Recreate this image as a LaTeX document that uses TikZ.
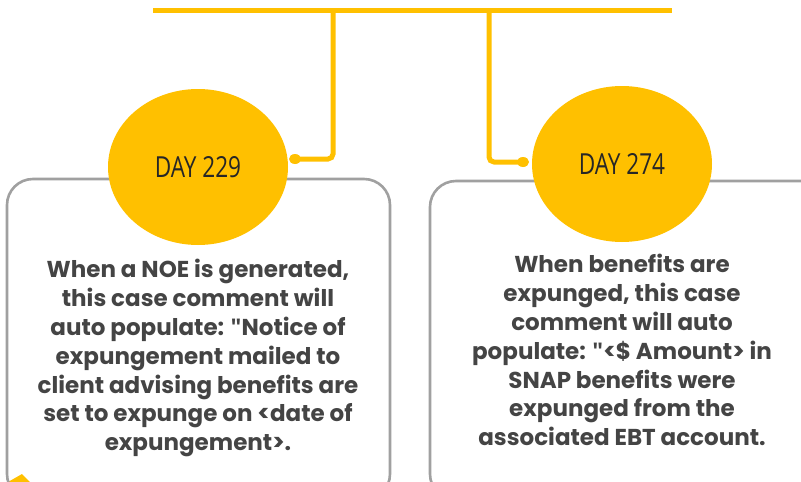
\documentclass[tikz,border=0pt]{standalone}
\usepackage{fontspec}
\setmainfont{Poppins}
\newfontfamily\dayfont[FakeStretch=0.78]{Open Sans}
\newfontfamily\quotefont{Open Sans}
\newcommand{\sq}{{\quotefont\char"22}}
\usetikzlibrary{shapes.geometric}

\definecolor{gold}{HTML}{FFC000}
\definecolor{boxgray}{HTML}{A0A0A0}
\definecolor{txtgray}{HTML}{444444}

\tikzset{
  conn/.style={gold, line width=5pt, rounded corners=5pt},
  daydot/.style={ellipse, fill=gold, inner sep=0pt, minimum width=180pt, minimum height=156pt,
    font=\dayfont\fontsize{29}{32}\selectfont, text=black!85},
  notebox/.style={draw=boxgray, line width=2.6pt, rounded corners=26pt},
  notetext/.style={align=center, text=txtgray, font=\bfseries\fontsize{23}{28.8}\selectfont}
}

\begin{document}
\begin{tikzpicture}[x=1pt,y=-1pt]
            \useasboundingbox (0,0) rectangle (801,482);
            \begin{scope}
                \clip (0,0) rectangle (801,482);
                % cut-off shape at the bottom left
                \fill[gold] (8,482) -- (22,474) -- (30,482) -- cycle;
                % boxes
                \draw[notebox] (7,179) rectangle (390,500);
                \draw[notebox] (430,181) rectangle (830,500);
            \end{scope}

            % time line
            \coordinate (bar-w) at (153,10);
            \coordinate (bar-e) at (672,10);
            \coordinate (tap1) at (333,10);
            \coordinate (tap2) at (489,10);
            \coordinate (dot1) at (295,159);
            \coordinate (dot2) at (523,162);
            \draw[conn] (bar-w) -- (bar-e);
            \draw[conn] (tap1) |- (dot1);
            \draw[conn] (tap2) |- (dot2);
            \fill[gold] (dot1) ellipse (6pt and 5pt);
            \fill[gold] (dot2) ellipse (6pt and 5pt);

            \node[daydot] (day229) at (198,167) {DAY 229};
            \node[daydot] (day274) at (622,164) {DAY 274};

            \node[notetext, anchor=north] (note229) at (198,256) {When a NOE is generated,\\this case comment will\\auto populate: \sq Notice of\\expungement mailed to\\client advising benefits are\\set to expunge on <date of\\expungement>.};
            \node[notetext, anchor=north] (note274) at (622,251) {When benefits are\\expunged, this case\\comment will auto\\populate: \sq<\$ Amount> in\\SNAP benefits were\\expunged from the\\associated EBT account.};
\end{tikzpicture}
\end{document}
